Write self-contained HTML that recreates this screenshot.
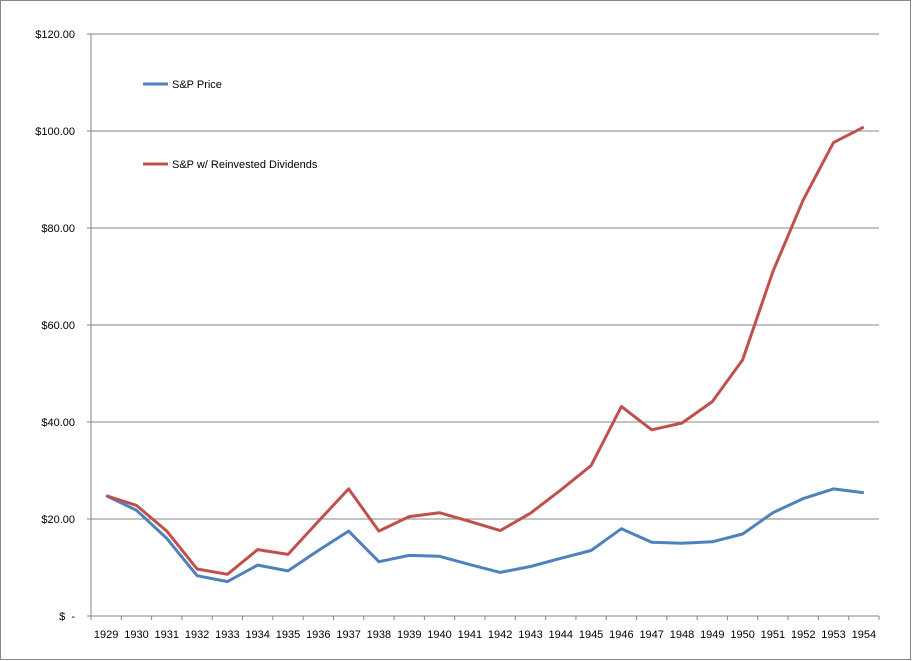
<!DOCTYPE html>
<html><head><meta charset="utf-8"><style>
body{margin:0;background:#fff}
svg{display:block;font-family:"Liberation Sans","DejaVu Sans",sans-serif}
</style></head><body>
<svg id="chart" width="912" height="661">
<rect x="0.5" y="0.5" width="910" height="659" fill="#fff" stroke="#888"/>
<g id="grid"></g><g id="axes"></g><g id="series"></g>
<g>
<line x1="143" y1="84" x2="168" y2="84" stroke="#4f81bd" stroke-width="3"/>
<text x="172" y="88" font-size="11" fill="#000">S&amp;P Price</text>
<line x1="143" y1="164" x2="168" y2="164" stroke="#c0504d" stroke-width="3"/>
<text x="172" y="168" font-size="11" fill="#000">S&amp;P w/ Reinvested Dividends</text>
</g>
</svg>
<script>
const years=[1929,1930,1931,1932,1933,1934,1935,1936,1937,1938,1939,1940,1941,1942,1943,1944,1945,1946,1947,1948,1949,1950,1951,1952,1953,1954];
const priceValues=[24.8,21.8,16,8.3,7.1,10.5,9.3,13.5,17.5,11.2,12.5,12.3,10.6,9.0,10.2,11.9,13.5,18.0,15.2,15.0,15.3,16.9,21.3,24.2,26.2,25.4];
const dividendValues=[24.8,22.8,17.5,9.7,8.6,13.7,12.7,19.5,26.2,17.5,20.5,21.3,19.5,17.6,21.2,26.0,31.0,43.2,38.4,39.8,44.2,52.8,71.0,85.8,97.6,100.8];
const yTicks=[0,20,40,60,80,100,120];
const yTickLabels=["$  -","$20.00","$40.00","$60.00","$80.00","$100.00","$120.00"];
const NS="http://www.w3.org/2000/svg";
const L=91,R=879,T=34,B=616,yMax=120;
const bw=(R-L)/years.length;
function xPos(i){return L+bw*(i+0.5);}
function yPos(v){return B-(v/yMax)*(B-T);}
function mk(tag,attrs,parent){const e=document.createElementNS(NS,tag);for(const k in attrs)e.setAttribute(k,attrs[k]);parent.appendChild(e);return e;}
const grid=document.getElementById('grid'),axes=document.getElementById('axes'),series=document.getElementById('series');
yTicks.forEach((v,i)=>{
  const y=yPos(v);
  if(v>0){const g=mk('line',{x1:L,x2:R,y1:y,y2:y,stroke:'#868686','stroke-width':1},grid);
  
  }
  const tk=mk('line',{x1:L-4,x2:L,y1:y,y2:y,stroke:'#868686'},axes);
  
  
  const t=mk('text',{x:75,y:y+4,'font-size':11,'text-anchor':'end',fill:'#000',style:'white-space:pre'},axes);
  t.textContent=yTickLabels[i];
  
  
});
const ya=mk('line',{x1:L,x2:L,y1:T,y2:B,stroke:'#868686'},axes);


const xa=mk('line',{x1:L,x2:R,y1:B,y2:B,stroke:'#868686'},axes);


for(let i=0;i<=years.length;i++){
  const x=L+bw*i;
  const tk=mk('line',{x1:x,x2:x,y1:B,y2:B+4,stroke:'#868686'},axes);
  
  
}
years.forEach((yr,i)=>{
  const t=mk('text',{x:xPos(i),y:B+22,'font-size':11,'text-anchor':'middle',fill:'#000'},axes);
  t.textContent=yr;
  
  
});
function drawLine(vals,color,name){
  const pts=vals.map((v,i)=>xPos(i).toFixed(1)+','+yPos(v).toFixed(1)).join(' ');
  const p=mk('polyline',{points:pts,fill:'none',stroke:color,'stroke-width':3,'stroke-linejoin':'round'},series);
  
  
}
drawLine(priceValues,'#4f81bd','sp-price-line');
drawLine(dividendValues,'#c0504d','sp-dividends-line');
</script>
</body></html>
